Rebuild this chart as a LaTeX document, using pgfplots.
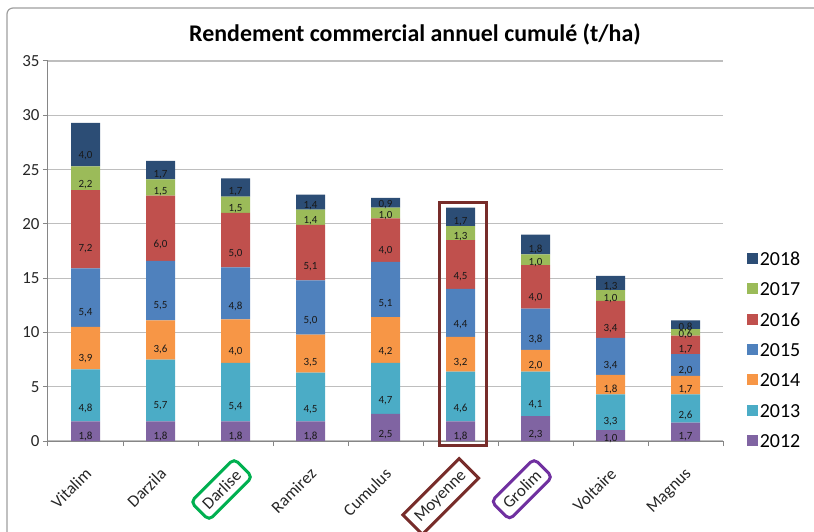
\documentclass[border=0pt]{standalone}
\usepackage{fontspec}
\setmainfont{Carlito}
\usepackage{pgfplots}
\pgfplotsset{compat=1.18}
\usepackage{pgfplotstable}

\definecolor{c2012}{HTML}{8064A2}
\definecolor{c2013}{HTML}{4BACC6}
\definecolor{c2014}{HTML}{F79646}
\definecolor{c2015}{HTML}{4F81BD}
\definecolor{c2016}{HTML}{C0504D}
\definecolor{c2017}{HTML}{9BBB59}
\definecolor{c2018}{HTML}{2C4D75}
\definecolor{axgray}{HTML}{868686}
\definecolor{gridgray}{HTML}{BEBEBE}
\definecolor{boxgreen}{HTML}{00B050}
\definecolor{boxred}{HTML}{772C2A}
\definecolor{boxpurple}{HTML}{7030A0}

% rendement par annee, une ligne par variete
\pgfplotstableread{
x  a    b    c    d    e    f    g
0  1.8  4.8  3.9  5.4  7.2  2.2  4.0
1  1.8  5.7  3.6  5.5  6.0  1.5  1.7
2  1.8  5.4  4.0  4.8  5.0  1.5  1.7
3  1.8  4.5  3.5  5.0  5.1  1.4  1.4
4  2.5  4.7  4.2  5.1  4.0  1.0  0.9
5  1.8  4.6  3.2  4.4  4.5  1.3  1.7
6  2.3  4.1  2.0  3.8  4.0  1.0  1.8
7  1.0  3.3  1.8  3.4  3.4  1.0  1.3
8  1.7  2.6  1.7  2.0  1.7  0.6  0.8
}\rdt

% decalages exprimes dans le repere tourne de 45 degres
\tikzset{
  catlbl/.style={rotate=45, anchor=north east, inner sep=0pt,
    xshift=-19bp, yshift=-17bp, font=\fontsize{17}{20}\selectfont, text=black!85},
  catbox/.style={catlbl, draw=#1, line width=3bp, inner sep=7bp, xshift=7bp, yshift=7bp},
}

\begin{document}
\begin{tikzpicture}
\useasboundingbox (0,0) rectangle (814bp,532bp);
\draw[axgray!80, line width=1.2bp, rounded corners=6bp] (7bp,-10bp) -- (7bp,524bp) -- (830bp,524bp);
\node[anchor=base, font=\bfseries\fontsize{24}{28}\selectfont] at (415bp,490bp)
  {Rendement commercial annuel cumulé (t/ha)};

\begin{axis}[
  at={(48bp,91bp)}, anchor=south west,
  scale only axis, width=675bp, height=380bp,
  ybar stacked, bar width=29bp,
  xmin=-0.5, xmax=8.5, ymin=0, ymax=35,
  ytick={0,5,...,35},
  xtick={-0.5,0.5,...,8.5},
  xticklabels={{},{},{},{},{},{},{},{},{},{}},
  extra x ticks={0,1,...,8},
  extra x tick labels={Vitalim,Darzila,{},Ramirez,Cumulus,{},{},Voltaire,Magnus},
  extra x tick style={major tick length=0pt},
  xticklabel style={catlbl},
  yticklabel style={font=\fontsize{17}{20}\selectfont, text=black!85},
  /pgf/number format/assume math mode=true,
  axis lines*=left,
  axis line style={draw=axgray, line width=1bp, -},
  ymajorgrids, grid style={draw=gridgray, line width=1.2bp},
  tick align=outside, major tick length=5bp,
  tick style={draw=axgray, line width=1bp},
  clip=false,
  visualization depends on=rawy \as \rawy,
  nodes near coords={\pgfmathprintnumber[fixed,fixed zerofill,precision=1,use comma]{\rawy}},
  every node near coord/.append style={font=\fontsize{11}{12}\selectfont, text=black!90,
    anchor=center, shift={(axis direction cs:0,-\rawy/4)}},
  reverse legend,
  legend image code/.code={\draw[#1,draw=none] (0bp,-5.5bp) rectangle (11bp,5.5bp);},
  legend style={at={(1.035,0.504)}, anchor=north west, draw=none, fill=none,
    inner sep=0pt, row sep=12.3bp,
    font=\fontsize{20}{24}\selectfont,
    nodes={inner sep=2bp, text height=14bp, text depth=0bp}},
  legend cell align=left,
]
\addplot[fill=c2012, draw=none] table[x=x, y=a] {\rdt};
\addlegendentry{2012}
\addplot[fill=c2013, draw=none] table[x=x, y=b] {\rdt};
\addlegendentry{2013}
\addplot[fill=c2014, draw=none] table[x=x, y=c] {\rdt};
\addlegendentry{2014}
\addplot[fill=c2015, draw=none] table[x=x, y=d] {\rdt};
\addlegendentry{2015}
\addplot[fill=c2016, draw=none] table[x=x, y=e] {\rdt};
\addlegendentry{2016}
\addplot[fill=c2017, draw=none] table[x=x, y=f] {\rdt};
\addlegendentry{2017}
\addplot[fill=c2018, draw=none] table[x=x, y=g] {\rdt};
\addlegendentry{2018}

% reperes pour les annotations
\coordinate (p2) at (axis cs:2,0);
\coordinate (p5) at (axis cs:5,0);
\coordinate (p6) at (axis cs:6,0);
\draw[boxred, line width=3bp] (axis cs:4.72,-0.37) rectangle (axis cs:5.34,21.97);
\end{axis}

\node[catbox=boxgreen, rounded corners=5bp] at (p2) {Darlise};
\node[catbox=boxred] at (p5) {Moyenne};
\node[catbox=boxpurple, rounded corners=5bp] at (p6) {Grolim};
\end{tikzpicture}
\end{document}
